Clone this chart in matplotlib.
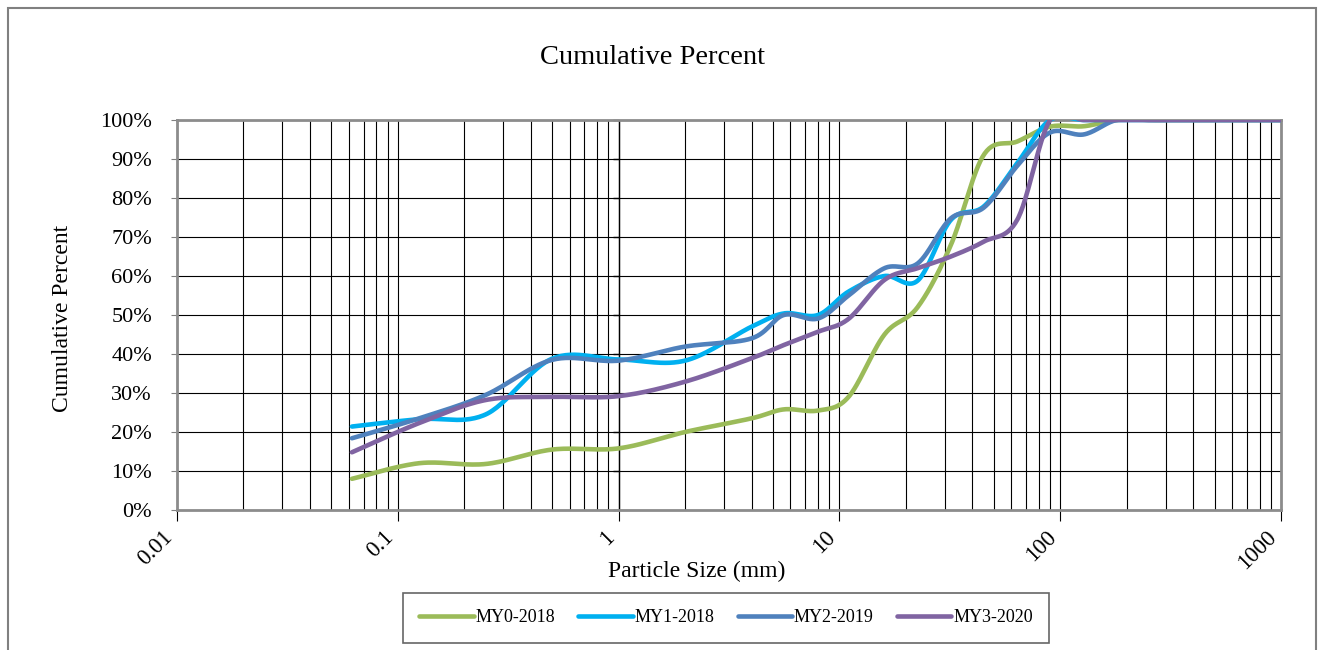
# coding=utf-8

import numpy as np
import matplotlib
matplotlib.use("Agg")
import matplotlib.pyplot as plt
from matplotlib.patches import Rectangle
from matplotlib.ticker import PercentFormatter, LogLocator, NullFormatter

# Sieve sizes (mm)
sizes = [0.062, 0.125, 0.25, 0.5, 1, 2, 4, 5.6, 8, 11, 16, 22.6, 32, 45,
         64, 90, 128, 180, 256, 362, 512, 1024]

# Cumulative percent finer for each survey
my0_2018 = [8, 12, 11.8, 15.5, 15.8, 20, 23.5, 25.8, 25.5, 29, 45, 52, 68, 91,
            94.5, 98.3, 98.4, 100, 100, 100, 100, 100]
my1_2018 = [21.4, 23.3, 24.5, 38.8, 38.6, 38.3, 47, 50.4, 50, 56, 60, 58.8, 74.4, 77.8,
            89, 100, 100, 100, 100, 100, 100, 100]
my2_2019 = [18.4, 23.5, 29.5, 38.5, 38.3, 41.9, 44, 50, 49.1, 55, 62, 63.2, 74.8, 77.5,
            88.3, 96.8, 96.3, 100, 100, 100, 100, 100]
my3_2020 = [14.8, 22.3, 28.2, 29, 29.2, 32.9, 38.9, 42.3, 45.7, 49, 59, 62, 65, 68.8,
            74.5, 100, 100, 100, 100, 100, 100, 100]

series_names = ["MY0-2018", "MY1-2018", "MY2-2019", "MY3-2020"]
series_colors = ["#9BBB59", "#00B0F0", "#4F81BD", "#8064A2"]

y_ticks = list(range(0, 101, 10))
x_ticks = [0.01, 0.1, 1, 10, 100, 1000]
x_tick_labels = ["0.01", "0.1", "1", "10", "100", "1000"]


def smooth_line(x, y, steps=30):
    """ Excel-like smoothed line (Catmull-Rom through the points),
        computed in log-x space so it follows the log axis.
    """
    lx = np.log10(np.asarray(x, dtype=float))
    yy = np.asarray(y, dtype=float)
    px = np.concatenate([[lx[0]], lx, [lx[-1]]])
    py = np.concatenate([[yy[0]], yy, [yy[-1]]])
    out_x, out_y = [], []
    t = np.linspace(0, 1, steps, endpoint=False)
    for i in range(1, len(px) - 2):
        p0, p1, p2, p3 = px[i - 1], px[i], px[i + 1], px[i + 2]
        q0, q1, q2, q3 = py[i - 1], py[i], py[i + 1], py[i + 2]
        # Bezier control points
        bx1, bx2 = p1 + (p2 - p0) / 6, p2 - (p3 - p1) / 6
        by1, by2 = q1 + (q2 - q0) / 6, q2 - (q3 - q1) / 6
        a, b, c, d = (1 - t) ** 3, 3 * t * (1 - t) ** 2, 3 * t ** 2 * (1 - t), t ** 3
        out_x.append(a * p1 + b * bx1 + c * bx2 + d * p2)
        out_y.append(a * q1 + b * by1 + c * by2 + d * q2)
    out_x.append([lx[-1]])
    out_y.append([yy[-1]])
    return 10 ** np.concatenate(out_x), np.concatenate(out_y)


W, H = 1321, 650
plt.rcParams["font.family"] = ["Liberation Serif", "DejaVu Serif"]
fig = plt.figure(figsize=(W / 100, H / 100), dpi=100)
ax = fig.add_axes([177 / W, 1 - 510 / H, (1281 - 177) / W, (510 - 120) / H])

# Outer chart border
fig.patches.append(Rectangle((8 / W, -0.2), 1308 / W, 1.2 - 8 / H,
                             transform=fig.transFigure, fill=False,
                             edgecolor="#808080", lw=1.5, clip_on=False))

# Plot the curves
for vals, name, col in zip([my0_2018, my1_2018, my2_2019, my3_2020],
                           series_names, series_colors):
    sx, sy = smooth_line(sizes, vals)
    ax.plot(sx, sy, color=col, lw=3.3, label=name, solid_capstyle="round", zorder=3)

ax.set_xscale("log")
ax.set_xlim(0.01, 1000)
ax.set_ylim(0, 100)

# Grid
ax.xaxis.set_minor_locator(LogLocator(base=10, subs=np.arange(2, 10)))
ax.xaxis.set_minor_formatter(NullFormatter())
ax.grid(True, which="both", axis="x", color="black", lw=0.8)
ax.grid(True, which="major", axis="y", color="black", lw=0.8)
ax.set_axisbelow(True)

ax.set_xticks(x_ticks)
ax.set_xticklabels(x_tick_labels, rotation=45, ha="right", va="top", fontsize=16.5)
ax.set_yticks(y_ticks)
ax.yaxis.set_major_formatter(PercentFormatter(xmax=100, decimals=0))
ax.tick_params(axis="y", labelsize=16, length=4, color="#808080", pad=14)
ax.tick_params(axis="x", which="major", length=8, color="black", pad=4)
ax.tick_params(axis="x", which="minor", length=0)

for sp in ax.spines.values():
    sp.set_color("#8c8c8c")
    sp.set_linewidth(2)

# Value axis crosses at x = 1 (Excel default on log axes)
ax.axvline(1, color="black", lw=1, zorder=2)
ax.plot([1] * len(y_ticks), y_ticks, linestyle="none", marker=0, markersize=4,
        color="black", zorder=2, clip_on=False)

# Titles
fig.text(652 / W, 1 - 58 / H, "Cumulative Percent", ha="center", va="center", fontsize=20.5)
fig.text(63 / W, 1 - 318 / H, "Cumulative Percent", ha="center", va="center",
         rotation=90, fontsize=17)
fig.text(697 / W, 1 - 571 / H, "Particle Size (mm)", ha="center", va="center", fontsize=17)

leg = fig.legend(loc="center", bbox_to_anchor=(726 / W, 1 - 618 / H), ncol=4,
                 fontsize=13, frameon=True, fancybox=False, edgecolor="#404040",
                 handlelength=3.0, handletextpad=0.1, columnspacing=1.3,
                 borderpad=0.9, borderaxespad=0)
leg.get_frame().set_linewidth(1.2)

fig.savefig("out.png", dpi=100)
